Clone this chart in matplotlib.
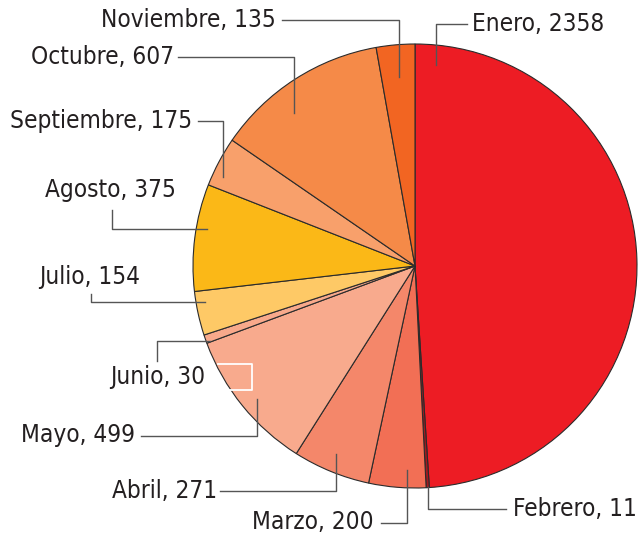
import matplotlib.pyplot as plt

meses = ['Enero', 'Febrero', 'Marzo', 'Abril', 'Mayo', 'Junio', 'Julio',
         'Agosto', 'Septiembre', 'Octubre', 'Noviembre']
valores = [2358, 11, 200, 271, 499, 30, 154, 375, 175, 607, 135]
colores = ['#ED1C24', '#A3191E', '#F26F55', '#F4876A', '#F8AA8D', '#F8A98B',
           '#FEC966', '#FBB817', '#F8A06B', '#F58A48', '#F26522']

H = 540

# posición del texto (px), alineación, y línea guía (px)
etiquetas = {
    'Enero':      ((472, 24), 'left',   [(467, 24), (436, 24), (436, 65)]),
    'Febrero':    ((513, 509), 'left',  [(506, 509), (428, 509), (428, 487)]),
    'Marzo':      ((374, 522), 'right', [(381, 523), (407, 523), (407, 470)]),
    'Abril':      ((217, 491), 'right', [(220, 491), (336, 491), (336, 454)]),
    'Mayo':       ((135, 435), 'right', [(141, 436), (257, 436), (257, 399)]),
    'Junio':      ((205, 377), 'right', [(157, 361), (157, 341), (210, 341)]),
    'Julio':      ((140, 277), 'right', [(91, 294), (91, 302), (205, 302)]),
    'Agosto':     ((176, 190), 'right', [(112, 210), (112, 229), (207, 229)]),
    'Septiembre': ((192, 121), 'right', [(198, 121), (223, 121), (223, 177)]),
    'Octubre':    ((174, 57), 'right',  [(178, 57), (294, 57), (294, 113)]),
    'Noviembre':  ((276, 20), 'right',  [(282, 20), (399, 20), (399, 77)]),
}

fig = plt.figure(figsize=(6.4, 5.4), dpi=100)
ax = fig.add_axes([0, 0, 1, 1])

ax.pie(valores, colors=colores, startangle=90, counterclock=False,
       center=(415, H - 266), radius=222, frame=True,
       wedgeprops=dict(edgecolor='#2b2b2b', linewidth=0.8))
ax.set_xlim(0, 640)
ax.set_ylim(0, H)
ax.set_aspect('equal')
ax.axis('off')

for mes, val in zip(meses, valores):
    (tx, ty), ha, guia = etiquetas[mes]
    ax.text(tx, H - ty, f'{mes}, {val}', ha=ha, va='center', fontsize=17.5,
            color='#231F20', family='DejaVu Sans', fontstretch='condensed')
    xs = [p[0] for p in guia]
    ys = [H - p[1] for p in guia]
    ax.plot(xs, ys, color='#555555', linewidth=1)

# trazo blanco junto a Junio
ax.plot([218, 252, 252, 230], [H - 364, H - 364, H - 390, H - 390],
        color='white', linewidth=1.3)

fig.savefig('out.png', dpi=100)
